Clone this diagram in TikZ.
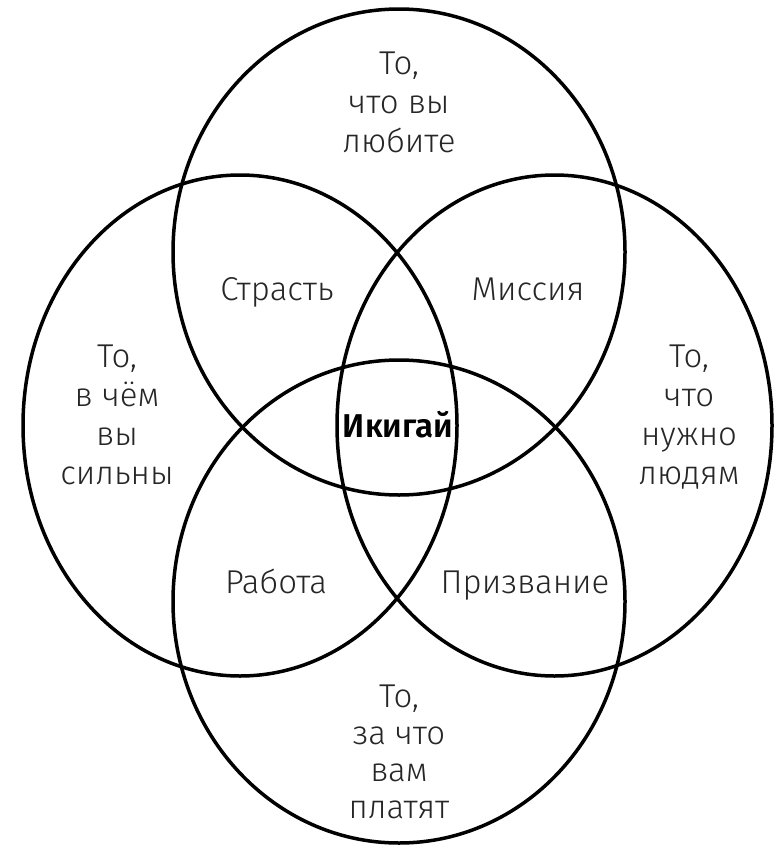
\documentclass[tikz,border=0pt]{standalone}
\usepackage{fontspec}
\setmainfont{Fira Sans Light}[BoldFont={Fira Sans SemiBold}]
\begin{document}
\begin{tikzpicture}[x=1pt,y=-1pt,
  ring/.style={line width=3.5pt, draw=black},
  lbl/.style={font=\fontsize{33}{39}\selectfont, text=black!85, inner sep=0pt, anchor=base},
  core/.style={font=\fontsize{33}{39}\selectfont\bfseries, text=black, inner sep=0pt, anchor=base}]
\useasboundingbox (0,0) rectangle (780,846);
% circles
\draw[ring] (399,252) ellipse [x radius=226pt, y radius=243pt];
\draw[ring] (399,601.5) ellipse [x radius=226pt, y radius=241.5pt];
\draw[ring] (240,425.5) ellipse [x radius=217pt, y radius=250.5pt];
\draw[ring] (554.5,425.5) ellipse [x radius=217.5pt, y radius=250.5pt];
% top
\node[lbl] (t1) at (399,74) {То,};
\node[lbl] (t2) at (399,113) {что вы};
\node[lbl] (t3) at (399,152) {любите};
% left
\node[lbl] (l1) at (117,367) {То,};
\node[lbl] (l2) at (117,406) {в чём};
\node[lbl] (l3) at (117,445) {вы};
\node[lbl] (l4) at (117,484) {сильны};
% right
\node[lbl] (r1) at (689,367) {То,};
\node[lbl] (r2) at (689,406) {что};
\node[lbl] (r3) at (689,445) {нужно};
\node[lbl] (r4) at (689,484) {людям};
% bottom
\node[lbl] (b1) at (399,707) {То,};
\node[lbl] (b2) at (399,744) {за что};
\node[lbl] (b3) at (399,781) {вам};
\node[lbl] (b4) at (399,818) {платят};
% overlaps
\node[lbl] (passion) at (277,300) {Страсть};
\node[lbl] (mission) at (528,300) {Миссия};
\node[lbl] (work) at (276,593) {Работа};
\node[lbl] (vocation) at (525,593) {Призвание};
\node[core] (ikigai) at (398,437) {Икигай};
\end{tikzpicture}
\end{document}
